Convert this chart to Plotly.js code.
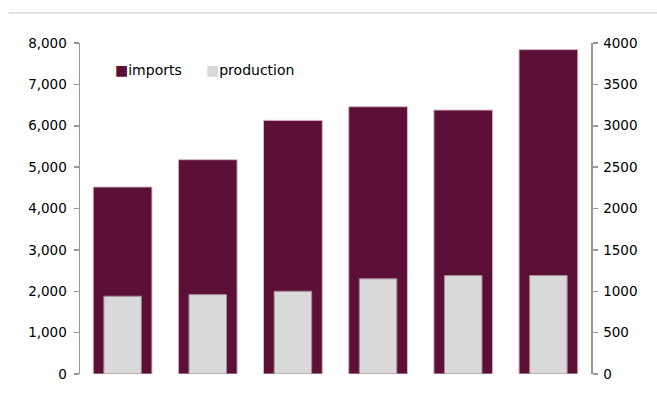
<!DOCTYPE html>
<html>
<head>
<meta charset="utf-8">
<script src="https://cdn.plot.ly/plotly-3.0.1.min.js"></script>
<style>html,body{margin:0;padding:0;background:#fff;}#chart{width:657px;height:399px;}</style>
</head>
<body>
<div id="chart"></div>
<script>
const categories = [1, 2, 3, 4, 5, 6];
const imports = [4520, 5180, 6130, 6460, 6380, 7840];
const production = [940, 960, 1000, 1150, 1190, 1190];
const leftTicks = [0, 1000, 2000, 3000, 4000, 5000, 6000, 7000, 8000];
const rightTicks = [0, 500, 1000, 1500, 2000, 2500, 3000, 3500, 4000];
const seriesNames = ['imports', 'production'];
const seriesColors = ['#5c1038', '#d9d9d9'];

const fam = 'DejaVu Sans, Verdana, sans-serif';
const font = {family: fam, size: 13.5, color: '#000'};

const data = [
  {type: 'bar', name: seriesNames[0], x: categories, y: imports, yaxis: 'y', width: 0.69,
   marker: {color: seriesColors[0], line: {color: '#d6b8c8', width: 1}}},
  {type: 'bar', name: seriesNames[1], x: categories, y: production, yaxis: 'y2', width: 0.44,
   marker: {color: seriesColors[1], line: {color: '#a48a98', width: 1}}}
];

const legendY = (399 - 25 - 70) / 331;
const layout = {
  width: 657, height: 399,
  margin: {l: 80, r: 66, t: 43, b: 25},
  paper_bgcolor: '#fff', plot_bgcolor: '#fff',
  font: font,
  barmode: 'overlay',
  showlegend: false,
  xaxis: {type: 'category', showticklabels: false, showline: false, showgrid: false,
          zeroline: false, ticks: '', range: [-0.5, 5.5]},
  yaxis: {range: [0, 8000], tickvals: leftTicks, tickformat: ',d', showgrid: false, zeroline: false,
          showline: true, linecolor: '#999', linewidth: 1.5, ticks: 'outside', ticklen: 5,
          tickcolor: '#999', tickwidth: 1.5, ticklabelstandoff: 4},
  yaxis2: {range: [0, 4000], tickvals: rightTicks, tickformat: 'd', overlaying: 'y', side: 'right',
           showgrid: false, zeroline: false, showline: true, linecolor: '#999', linewidth: 1.5,
           ticks: 'outside', ticklen: 5, tickcolor: '#999', tickwidth: 1.5, ticklabelstandoff: 3},
  annotations: [
    {xref: 'paper', yref: 'paper', x: (113 - 80) / 511, y: legendY, xanchor: 'left', yanchor: 'middle',
     showarrow: false, font: {family: fam, size: 14, color: '#000'},
     text: '<span style="color:' + seriesColors[0] + '">■</span>' + seriesNames[0]},
    {xref: 'paper', yref: 'paper', x: (204 - 80) / 511, y: legendY, xanchor: 'left', yanchor: 'middle',
     showarrow: false, font: {family: fam, size: 14, color: '#000'},
     text: '<span style="color:' + seriesColors[1] + '">■</span>' + seriesNames[1]}
  ],
  shapes: [{type: 'line', xref: 'paper', yref: 'paper', x0: -0.14, x1: 1.13,
            y0: (399 - 25 - 13) / 331, y1: (399 - 25 - 13) / 331,
            line: {color: '#d9d9d9', width: 1.5}}]
};

Plotly.newPlot('chart', data, layout, {displayModeBar: false, staticPlot: true});
</script>
</body>
</html>
